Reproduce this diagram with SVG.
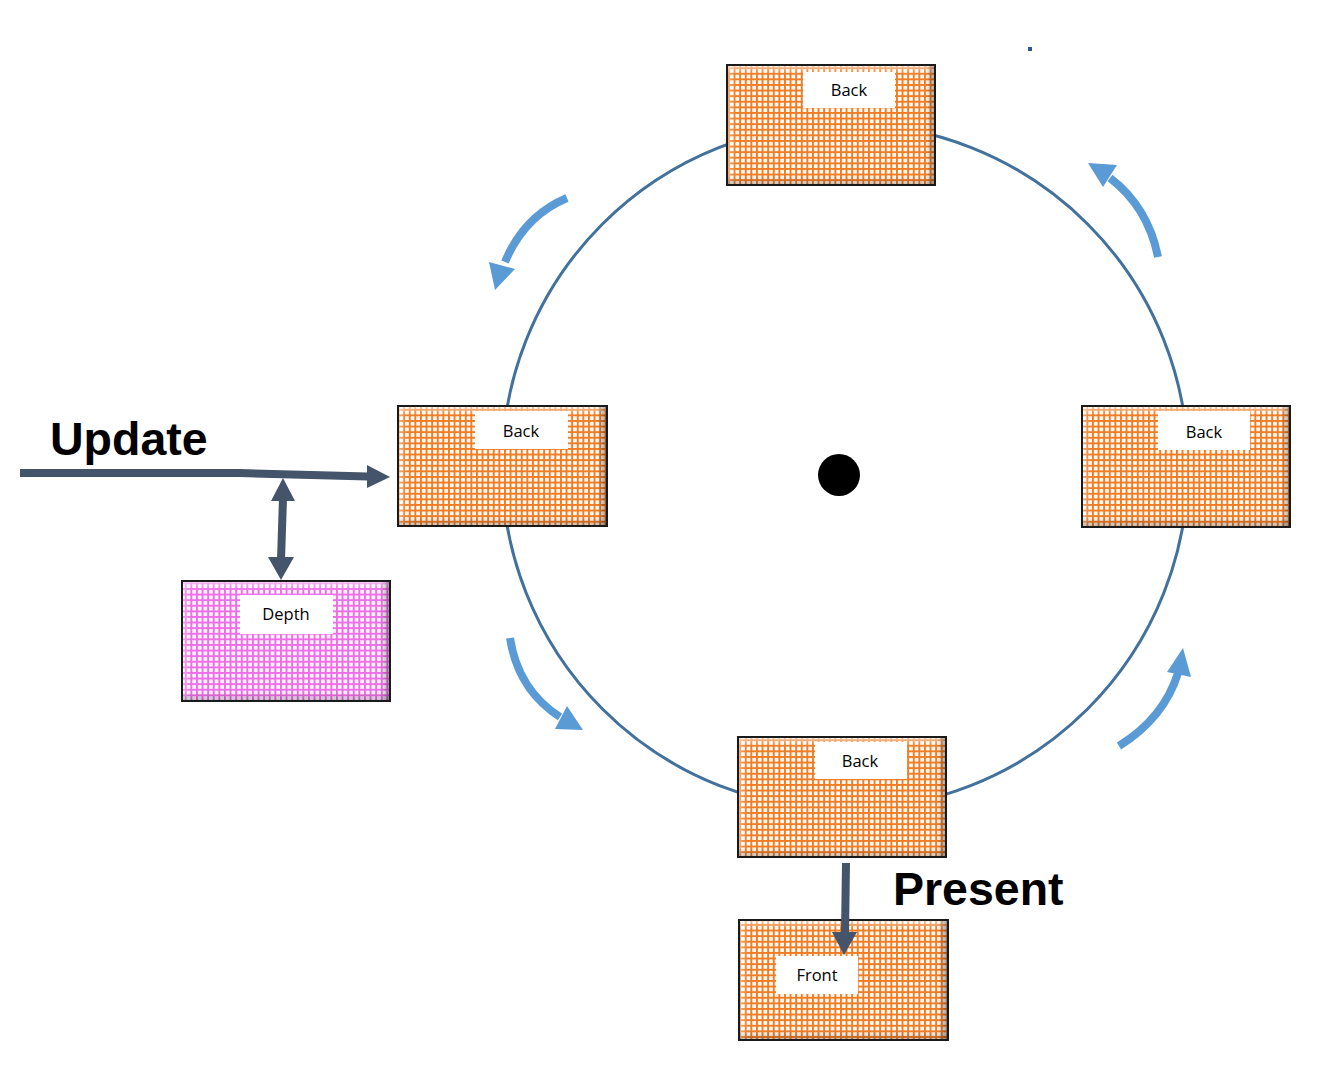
<svg xmlns="http://www.w3.org/2000/svg" width="1325" height="1077" viewBox="0 0 1325 1077">
<defs>
<pattern id="og" width="5.6" height="5.6" patternUnits="userSpaceOnUse">
<rect width="5.6" height="5.6" fill="#fffaf4"/>
<rect x="0" y="0" width="1.9" height="5.6" fill="#f07c24"/>
<rect x="0" y="0" width="5.6" height="1.9" fill="#f07c24"/>
</pattern>
<pattern id="pg" width="5.6" height="5.6" patternUnits="userSpaceOnUse">
<rect width="5.6" height="5.6" fill="#fdf4fd"/>
<rect x="0" y="0" width="1.9" height="5.6" fill="#ee6ee8"/>
<rect x="0" y="0" width="5.6" height="1.9" fill="#ee6ee8"/>
</pattern>
<linearGradient id="bevR" x1="0" y1="0" x2="1" y2="0"><stop offset="0" stop-color="#000" stop-opacity="0"/><stop offset="1" stop-color="#000" stop-opacity="0.35"/></linearGradient>
<linearGradient id="bevB" x1="0" y1="0" x2="0" y2="1"><stop offset="0" stop-color="#000" stop-opacity="0"/><stop offset="1" stop-color="#000" stop-opacity="0.25"/></linearGradient>
<linearGradient id="bevT" x1="0" y1="0" x2="0" y2="1"><stop offset="0" stop-color="#fff" stop-opacity="0.6"/><stop offset="1" stop-color="#fff" stop-opacity="0"/></linearGradient>
<linearGradient id="bevL" x1="0" y1="0" x2="1" y2="0"><stop offset="0" stop-color="#fff" stop-opacity="0.4"/><stop offset="1" stop-color="#fff" stop-opacity="0"/></linearGradient>
<g id="bevel">
<rect x="0" y="0" width="208" height="9" fill="url(#bevT)"/>
<rect x="0" y="0" width="9" height="120" fill="url(#bevL)"/>
<rect x="199" y="0" width="9" height="120" fill="url(#bevR)"/>
<rect x="0" y="111" width="208" height="9" fill="url(#bevB)"/>
</g>
</defs>
<style>
.frame{stroke:#1a1a1a;stroke-width:2}
.lbl{fill:#ffffff}
.lt{font-family:"Open Sans","Noto Sans","Liberation Sans",sans-serif;font-size:16.5px;fill:#000;text-anchor:middle}
.big{font-family:"Liberation Sans",Arial,sans-serif;font-weight:bold;font-size:46.5px;fill:#000}
.ring{fill:none;stroke:#41719c;stroke-width:3}
.blue{fill:none;stroke:#5b9bd5;stroke-width:8}
.bluehead{fill:#5b9bd5}
.dark{fill:none;stroke:#44546a;stroke-width:8}
.darkhead{fill:#44546a}
</style>
<rect width="1325" height="1077" fill="#ffffff"/>
<ellipse class="ring" cx="845" cy="466.5" rx="343" ry="343"/>
<circle cx="839" cy="475" r="21" fill="#000"/>
<rect x="1028" y="47" width="4" height="4" fill="#2f5597"/>
<g id="node-back-top">
<rect x="727" y="65" width="208" height="120" fill="url(#og)"/>
<use href="#bevel" x="727" y="65"/>
<rect x="727" y="65" width="208" height="120" fill="none" class="frame"/>
<rect class="lbl" x="803" y="72" width="92" height="36"/>
<text class="lt" x="849" y="96">Back</text>
</g>
<g id="node-back-left">
<rect x="398" y="406" width="209" height="120" fill="url(#og)"/>
<use href="#bevel" x="398" y="406"/>
<rect x="398" y="406" width="209" height="120" fill="none" class="frame"/>
<rect class="lbl" x="475" y="411" width="93" height="38"/>
<text class="lt" x="521" y="437">Back</text>
</g>
<g id="node-back-right">
<rect x="1082" y="406" width="208" height="121" fill="url(#og)"/>
<use href="#bevel" x="1082" y="406"/>
<rect x="1082" y="406" width="208" height="121" fill="none" class="frame"/>
<rect class="lbl" x="1158" y="411" width="92" height="39"/>
<text class="lt" x="1204" y="438">Back</text>
</g>
<g id="node-back-bottom">
<rect x="738" y="737" width="208" height="120" fill="url(#og)"/>
<use href="#bevel" x="738" y="737"/>
<rect x="738" y="737" width="208" height="120" fill="none" class="frame"/>
<rect class="lbl" x="815" y="742" width="92" height="37"/>
<text class="lt" x="860" y="767">Back</text>
</g>
<g id="node-front">
<rect x="739" y="920" width="209" height="120" fill="url(#og)"/>
<use href="#bevel" x="739" y="920"/>
<rect x="739" y="920" width="209" height="120" fill="none" class="frame"/>
<rect class="lbl" x="776" y="956" width="82" height="38"/>
<text class="lt" x="817" y="981">Front</text>
</g>
<g id="node-depth">
<rect x="182" y="581" width="208" height="120" fill="url(#pg)"/>
<use href="#bevel" x="182" y="581"/>
<rect x="182" y="581" width="208" height="120" fill="none" class="frame"/>
<rect class="lbl" x="240" y="595" width="93" height="39"/>
<text class="lt" x="286" y="620">Depth</text>
</g>
<g id="connectors">
<path class="blue" d="M567,198 Q524,216 505,262"/>
<polygon class="bluehead" points="489,262 515,269 495,290"/>
<path class="blue" d="M1158,257 Q1148,207 1110,178"/>
<polygon class="bluehead" points="1088,163 1117,165 1103,187"/>
<path class="blue" d="M510,638 Q518,690 560,717"/>
<polygon class="bluehead" points="567,706 555,729 583,730"/>
<path class="blue" d="M1119,746 Q1164,718 1178,673"/>
<polygon class="bluehead" points="1183,648 1167,672 1191,677"/>
<path class="dark" d="M20,473 L240,473 L368,476.5"/>
<polygon class="darkhead" points="367,465 390,477 367,488"/>
<path class="dark" d="M283,498 L281,560"/>
<polygon class="darkhead" points="283,478 295,501 271,501"/>
<polygon class="darkhead" points="281,580 268,557 294,557"/>
<path class="dark" d="M846,863 L845,934"/>
<polygon class="darkhead" points="832,932 857,932 844,955"/>
</g>
<text class="big" x="50" y="455">Update</text>
<text class="big" x="893" y="905">Present</text>
</svg>
